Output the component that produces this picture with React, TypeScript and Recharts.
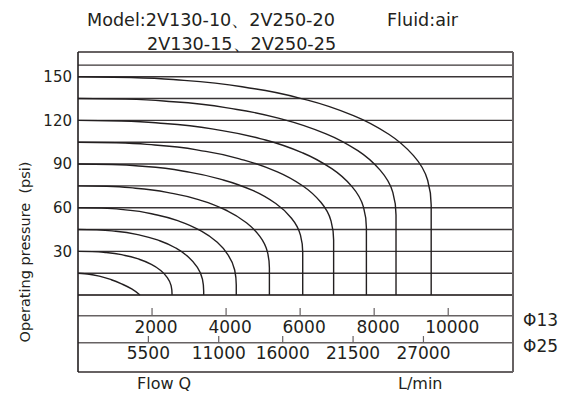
import { Line, LineChart, ReferenceLine, XAxis, YAxis } from 'recharts';

const INK = '#231f20';
const GRID = '#3a3536';
const FRAME = '#676263';

// pressure grid (psi); 158 is the extra line above the 150 row
const gridPressures = [0, 15, 30, 45, 60, 75, 90, 105, 120, 135, 150, 158];
const pressureTicks = [30, 60, 90, 120, 150];

// flow scales printed under the chart
const phi13Ticks = [2000, 4000, 6000, 8000, 10000];
const phi25Ticks = [5500, 11000, 16000, 21500, 27000];

// curves: flow on the Φ13 scale (L/min), pressure in psi
const flow15 = [0, 300, 600, 900, 1200, 1450, 1675];
const psi15 = [15, 14.3, 12.8, 10.5, 7.4, 4.2, 0];
const flow30 = [0, 381, 762, 1270, 1651, 1981, 2235, 2413, 2515, 2540, 2540];
const psi30 = [30, 29.8, 29.2, 27.2, 24.6, 21.1, 16.9, 12.0, 6.4, 0.7, 0];
const flow45 = [0, 509, 1019, 1698, 2207, 2648, 2988, 3225, 3361, 3395, 3395];
const psi45 = [45, 44.8, 43.8, 41.0, 37.3, 32.2, 26.0, 19.0, 10.9, 2.7, 0];
const flow60 = [0, 641, 1283, 2138, 2779, 3335, 3762, 4061, 4232, 4275, 4275];
const psi60 = [60, 59.7, 58.5, 55.0, 50.3, 43.9, 36.2, 27.3, 17.2, 6.9, 0];
const flow75 = [0, 776, 1551, 2585, 3361, 4033, 4550, 4912, 5118, 5170, 5170];
const psi75 = [75, 74.7, 73.4, 69.7, 64.7, 57.9, 49.7, 40.3, 29.5, 18.6, 0];
const flow90 = [0, 911, 1821, 3035, 3946, 4735, 5342, 5767, 6009, 6070, 6070];
const psi90 = [90, 89.7, 88.3, 84.3, 78.9, 71.7, 62.9, 52.8, 41.2, 29.5, 0];
const flow105 = [0, 1036, 2072, 3453, 4488, 5386, 6076, 6560, 6836, 6905, 6905];
const psi105 = [105, 104.6, 103.1, 98.7, 92.7, 84.6, 74.9, 63.7, 50.8, 37.8, 0];
const flow120 = [0, 1169, 2337, 3895, 5064, 6076, 6855, 7401, 7712, 7790, 7790];
const psi120 = [120, 119.6, 117.9, 113.0, 106.5, 97.6, 86.8, 74.5, 60.4, 46, 0];
const flow135 = [0, 1289, 2577, 4295, 5584, 6700, 7559, 8161, 8504, 8590, 8590];
const psi135 = [135, 134.6, 132.8, 127.5, 120.4, 110.8, 99.2, 85.8, 70.5, 55, 0];
const flow150 = [0, 1431, 2862, 4770, 6201, 7441, 8395, 9063, 9445, 9540, 9540];
const psi150 = [150, 149.5, 147.5, 141.7, 133.9, 123.3, 110.5, 95.8, 78.9, 61.8, 0];

const curves = [
  [flow15, psi15],
  [flow30, psi30],
  [flow45, psi45],
  [flow60, psi60],
  [flow75, psi75],
  [flow90, psi90],
  [flow105, psi105],
  [flow120, psi120],
  [flow135, psi135],
  [flow150, psi150],
].map(([flow, psi]) => flow.map((q, i) => ({ q, p: psi[i] })));

// the two flow rows sit below the 0 psi line, inside the same frame
const Y_MIN = -52.9;
const Y_MAX = 167;
const PHI13_ROW = -14.2;
const PHI25_ROW = -32.8;
const Q13_MAX = 11750;
const Q25_MAX = 34000;

export default function App() {
  return (
    <div
      style={{
        position: 'absolute',
        left: 0,
        top: 0,
        width: 575,
        height: 400,
        fontFamily: '"DejaVu Sans", sans-serif',
        background: '#fff',
      }}
    >
      <LineChart width={575} height={400} margin={{ top: 52, right: 62, bottom: 28, left: 38 }}>
        <XAxis xAxisId="q13" type="number" dataKey="q" domain={[0, Q13_MAX]} allowDataOverflow hide />
        <XAxis xAxisId="q25" type="number" dataKey="q" domain={[0, Q25_MAX]} allowDataOverflow hide />
        <YAxis
          type="number"
          domain={[Y_MIN, Y_MAX]}
          allowDataOverflow
          ticks={pressureTicks}
          interval={0}
          width={40}
          axisLine={false}
          tickLine={false}
          tickSize={0}
          tickMargin={6}
          tick={{ fontSize: 15, fill: INK }}
          label={{
            value: 'Operating pressure\u00a0 (psi)',
            angle: -90,
            position: 'center',
            dx: -33,
            dy: 40,
            fontSize: 14.5,
            fill: INK,
          }}
        />

        {gridPressures.map((p) => (
          <ReferenceLine
            key={'g' + p}
            xAxisId="q13"
            y={p}
            stroke={p === 0 ? '#4d4848' : GRID}
            strokeWidth={p === 0 ? 2 : 1.4}
          />
        ))}

        <ReferenceLine
          xAxisId="q13"
          y={PHI13_ROW}
          stroke={FRAME}
          strokeWidth={1.6}
          label={{ value: 'Φ13', position: 'right', offset: 10, dy: 4, fontSize: 17, fill: INK }}
        />
        <ReferenceLine
          xAxisId="q13"
          y={PHI25_ROW}
          stroke={FRAME}
          strokeWidth={1.6}
          label={{ value: 'Φ25', position: 'right', offset: 10, dy: 3, fontSize: 17, fill: INK }}
        />

        {phi13Ticks.map((v) => (
          <ReferenceLine
            key={'a' + v}
            xAxisId="q13"
            segment={[
              { x: v, y: PHI13_ROW + 5.3 },
              { x: v, y: PHI13_ROW },
            ]}
            stroke={FRAME}
            strokeWidth={1.2}
            label={{ value: String(v), position: 'bottom', offset: 5, dx: 4, fontSize: 17, fill: INK }}
          />
        ))}
        {phi25Ticks.map((v) => (
          <ReferenceLine
            key={'b' + v}
            xAxisId="q25"
            segment={[
              { x: v, y: PHI25_ROW + 4.6 },
              { x: v, y: PHI25_ROW },
            ]}
            stroke={FRAME}
            strokeWidth={1.2}
            label={{ value: String(v), position: 'bottom', offset: 4, fontSize: 17, fill: INK }}
          />
        ))}

        {curves.map((data, i) => (
          <Line
            key={'c' + i}
            xAxisId="q13"
            data={data}
            dataKey="p"
            type="monotoneY"
            stroke={INK}
            strokeWidth={1.4}
            dot={false}
            activeDot={false}
            isAnimationActive={false}
          />
        ))}

        {/* frame */}
        <ReferenceLine xAxisId="q13" y={Y_MAX} stroke={FRAME} strokeWidth={2} />
        <ReferenceLine xAxisId="q13" y={Y_MIN} stroke={FRAME} strokeWidth={2} />
        <ReferenceLine xAxisId="q13" x={Q13_MAX} stroke={FRAME} strokeWidth={2} />
        <ReferenceLine xAxisId="q13" x={0} stroke={INK} strokeWidth={1.6} />
      </LineChart>

      <svg
        width={575}
        height={400}
        style={{ position: 'absolute', left: 0, top: 0, pointerEvents: 'none' }}
      >
        <text x={87} y={26} fontSize={17.6} fill={INK}>Model:2V130-10、2V250-20</text>
        <text x={387} y={26} fontSize={17.6} fill={INK}>Fluid:air</text>
        <text x={147} y={50} fontSize={17.6} fill={INK}>2V130-15、2V250-25</text>
        <text x={137} y={389} fontSize={16} fill={INK}>Flow Q</text>
        <text x={398} y={389} fontSize={16} fill={INK}>L/min</text>
      </svg>
    </div>
  );
}
